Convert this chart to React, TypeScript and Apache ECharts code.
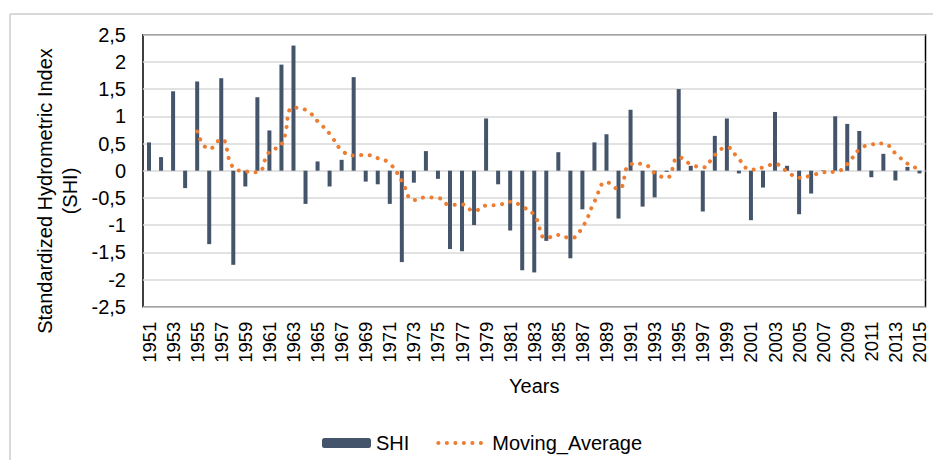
import React, { useEffect, useRef } from "react";
import * as echarts from "echarts";

const years = [
  "1951", "1952", "1953", "1954", "1955", "1956", "1957", "1958", "1959", "1960",
  "1961", "1962", "1963", "1964", "1965", "1966", "1967", "1968", "1969", "1970",
  "1971", "1972", "1973", "1974", "1975", "1976", "1977", "1978", "1979", "1980",
  "1981", "1982", "1983", "1984", "1985", "1986", "1987", "1988", "1989", "1990",
  "1991", "1992", "1993", "1994", "1995", "1996", "1997", "1998", "1999", "2000",
  "2001", "2002", "2003", "2004", "2005", "2006", "2007", "2008", "2009", "2010",
  "2011", "2012", "2013", "2014", "2015",
];

const shi = [
  0.52, 0.25, 1.46, -0.32, 1.64, -1.35, 1.7, -1.73, -0.29, 1.35,
  0.74, 1.95, 2.3, -0.61, 0.17, -0.29, 0.2, 1.72, -0.2, -0.25,
  -0.61, -1.68, -0.22, 0.36, -0.15, -1.44, -1.48, -1.0, 0.96, -0.25,
  -1.1, -1.83, -1.87, -1.29, 0.34, -1.61, -0.71, 0.52, 0.67, -0.88,
  1.12, -0.66, -0.49, -0.02, 1.5, 0.09, -0.75, 0.64, 0.96, -0.05,
  -0.91, -0.31, 1.08, 0.09, -0.8, -0.42, 0.01, 1.0, 0.86, 0.73,
  -0.12, 0.31, -0.18, 0.07, -0.05,
];

const movingAverage = [
  null, null, null, null, 0.72, 0.4, 0.58, 0.06, -0.01, -0.03,
  0.35, 0.48, 1.16, 1.12, 0.91, 0.68, 0.38, 0.28, 0.29, 0.23,
  0.13, -0.19, -0.54, -0.49, -0.5, -0.63, -0.62, -0.74, -0.64, -0.63,
  -0.57, -0.66, -0.82, -1.24, -1.18, -1.24, -1.04, -0.57, -0.21, -0.34,
  0.12, 0.13, -0.04, -0.13, 0.25, 0.12, 0.06, 0.29, 0.43, 0.21,
  0.02, 0.06, 0.12, -0.01, -0.13, -0.09, -0.03, -0.02, 0.12, 0.39,
  0.48, 0.5, 0.32, 0.13, 0.03,
];

const yMin = -2.5;
const yMax = 2.5;
const yInterval = 0.5;

const FONT = "'Liberation Sans', Arial, sans-serif";

export default function App() {
  const ref = useRef<HTMLDivElement>(null);

  useEffect(() => {
    if (!ref.current) return;
    const chart = echarts.init(ref.current, null, { renderer: "svg" });
    chart.setOption({
      animation: false,
      backgroundColor: "#ffffff",
      textStyle: { fontFamily: FONT },
      grid: {
        left: 143,
        right: 7.5,
        top: 34.7,
        bottom: 153.3,
        show: true,
        borderColor: "#000000",
        borderWidth: 1.5,
        backgroundColor: "transparent",
      },
      legend: {
        left: 317,
        top: 428,
        itemWidth: 49,
        itemHeight: 10,
        itemGap: 27,
        textStyle: { fontSize: 20, color: "#000000", fontFamily: FONT },
        data: [
          { name: "SHI" },
          {
            name: "Moving_Average",
            itemStyle: { opacity: 0 },
            lineStyle: { width: 4, type: [0.1, 8.4], cap: "round", color: "#ED7D31" },
          },
        ],
      },
      xAxis: {
        type: "category",
        data: years,
        boundaryGap: true,
        axisLine: { show: false, onZero: false },
        axisTick: { show: false },
        axisLabel: {
          interval: 1,
          rotate: 90,
          margin: 15,
          fontSize: 18.5,
          color: "#000000",
          fontFamily: FONT,
        },
        name: "Years",
        nameLocation: "middle",
        nameGap: 69,
        nameTextStyle: { fontSize: 20, color: "#000000", fontFamily: FONT },
      },
      yAxis: {
        type: "value",
        min: yMin,
        max: yMax,
        interval: yInterval,
        axisLine: { show: false },
        axisTick: { show: false },
        axisLabel: {
          margin: 17,
          fontSize: 20,
          color: "#000000",
          fontFamily: FONT,
          formatter: (v: number) => String(v).replace(".", ","),
        },
        splitLine: { lineStyle: { color: "#d9d9d9", width: 1.5 } },
      },
      graphic: [
        {
          type: "line",
          shape: { x1: 10, y1: 14, x2: 933, y2: 14 },
          style: { stroke: "#d9d9d9", lineWidth: 2 },
          silent: true,
        },
        {
          type: "line",
          shape: { x1: 10, y1: 14, x2: 10, y2: 460 },
          style: { stroke: "#d9d9d9", lineWidth: 2 },
          silent: true,
        },
        {
          type: "text",
          x: 57,
          y: 191,
          rotation: Math.PI / 2,
          style: {
            text: "Standardized Hydrometric Index\n(SHI)",
            fontSize: 20,
            fontFamily: FONT,
            fill: "#000000",
            align: "center",
            verticalAlign: "middle",
            lineHeight: 25,
          },
          silent: true,
        },
      ],
      series: [
        {
          name: "SHI",
          type: "bar",
          data: shi,
          barWidth: 4,
          itemStyle: { color: "#44546A" },
          z: 2,
        },
        {
          name: "Moving_Average",
          type: "line",
          data: movingAverage,
          smooth: true,
          symbol: "none",
          connectNulls: false,
          itemStyle: { color: "#ED7D31" },
          lineStyle: {
            color: "#ED7D31",
            width: 4,
            type: [0.1, 8.4],
            cap: "round",
          },
          z: 3,
        },
      ],
    });
    return () => chart.dispose();
  }, []);

  return (
    <div
      ref={ref}
      style={{
        position: "fixed",
        left: 0,
        top: 0,
        width: 933,
        height: 460,
        background: "#ffffff",
      }}
    />
  );
}
